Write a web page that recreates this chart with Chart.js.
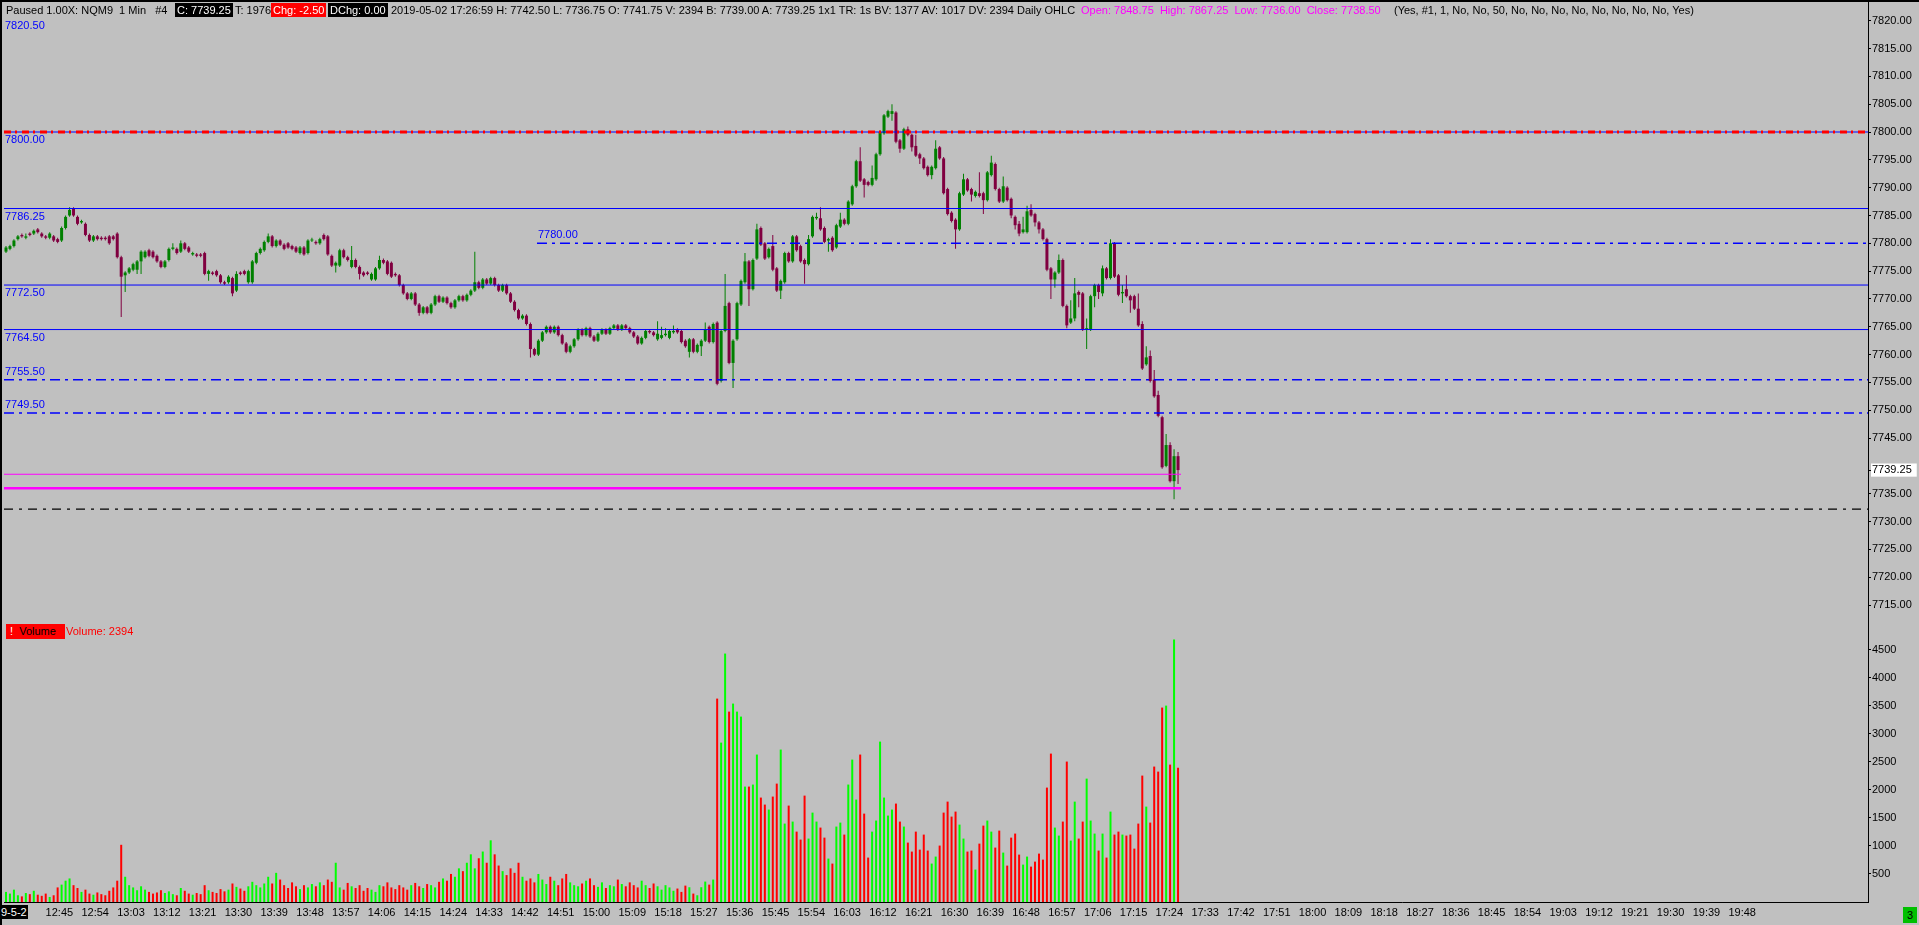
<!DOCTYPE html>
<html>
<head>
<meta charset="utf-8">
<script src="https://cdn.jsdelivr.net/npm/chart.js@4.4.1/dist/chart.umd.min.js"></script>
<style>
  html, body { margin: 0; padding: 0; background: #c0c0c0; }
  #wrap { position: relative; width: 1919px; height: 925px; overflow: hidden; background: #c0c0c0;
          font-family: "Liberation Sans", Arial, sans-serif; font-size: 11px; }
  canvas { position: absolute; left: 0; }
  .t { position: absolute; white-space: pre; line-height: 14px; color: #000; }
  .box { padding: 0 2px; }
  .lvl { position: absolute; white-space: pre; color: #0000ff; line-height: 13px; }
</style>
</head>
<body>
<div id="wrap">
  <canvas id="price" width="1919" height="623" style="top:0"></canvas>
  <canvas id="volume" width="1919" height="302" style="top:623px"></canvas>

  <div style="position:absolute;left:0;top:0;width:1919px;height:2px;background:#000"></div>
  <div style="position:absolute;left:0;top:0;width:2px;height:925px;background:#000"></div>

  <!-- header line -->
  <div class="t" style="left:6px;top:3px">Paused 1.00X: NQM9  1 Min   #4</div>
  <div class="t box" style="left:175px;top:3px;background:#000;color:#fff">C: 7739.25</div>
  <div class="t" style="left:235px;top:3px">T: 1976</div>
  <div class="t box" style="left:271px;top:3px;background:#f00;color:#fff">Chg: -2.50</div>
  <div class="t box" style="left:328px;top:3px;background:#000;color:#fff">DChg: 0.00</div>
  <div class="t" style="left:391px;top:3px">2019-05-02 17:26:59 H: 7742.50 L: 7736.75 O: 7741.75 V: 2394 B: 7739.00 A: 7739.25 1x1 TR: 1s BV: 1377 AV: 1017 DV: 2394 Daily OHLC</div>
  <div class="t" style="left:1081px;top:3px;color:#ff00ff">Open: 7848.75  High: 7867.25  Low: 7736.00  Close: 7738.50</div>
  <div class="t" style="left:1394px;top:3px">(Yes, #1, 1, No, No, 50, No, No, No, No, No, No, No, No, Yes)</div>

  <!-- volume pane title -->
  <div class="t" style="left:6px;top:624px;width:51px;height:15px;line-height:15px;background:#f00;padding:0 4px"><span style="color:#fff">!</span>  Volume</div>
  <div class="t" style="left:66px;top:624px;line-height:15px;color:#f00">Volume: 2394</div>

  <div class="t" style="left:0;top:905px;background:#000;color:#fff;padding:0 1px">9-5-2</div>
  <div class="t" style="left:1903px;top:907px;width:14px;height:16px;line-height:16px;background:#00c000;text-align:center">3</div>
</div>

<script>
// 1-minute bars, 12:32 .. 17:27 (index 0 .. 295)
const opens = [
  7778.5,7779.0,7779.5,7780.75,7781.5,7781.0,7781.75,7781.75,7782.5,7781.75,
  7781.25,7781.0,7781.25,7780.75,7780.5,7782.75,7785.0,7786.25,7784.75,7783.75,
  7783.5,7781.5,7780.5,7781.25,7781.0,7781.0,7781.25,7781.25,7781.75,7777.5,
  7774.25,7774.75,7775.25,7775.25,7776.75,7777.5,7778.75,7778.5,7777.75,7776.75,
  7775.75,7777.0,7779.0,7779.0,7778.5,7780.0,7779.25,7778.0,7778.0,7778.0,
  7778.25,7774.5,7774.75,7775.0,7774.25,7773.0,7773.0,7773.75,7771.5,7774.75,
  7775.0,7773.0,7773.0,7776.5,7778.25,7778.75,7780.25,7781.25,7779.5,7780.5,
  7779.75,7780.0,7779.5,7779.25,7778.25,7779.25,7778.25,7780.5,7780.25,7780.0,
  7781.5,7781.25,7777.75,7776.0,7776.0,7778.75,7777.5,7775.75,7777.0,7775.75,
  7774.75,7774.75,7773.5,7773.5,7775.5,7777.0,7776.75,7776.5,7774.5,7774.25,
  7772.5,7771.0,7770.0,7771.0,7769.0,7767.5,7768.5,7767.5,7769.0,7770.5,
  7769.5,7770.25,7769.25,7768.5,7769.75,7770.5,7769.75,7770.75,7771.5,7773.0,
  7772.0,7773.5,7772.75,7773.75,7772.5,7771.5,7772.5,7771.0,7769.5,7768.0,
  7766.5,7767.0,7765.5,7761.0,7760.0,7762.5,7764.0,7765.0,7764.0,7765.0,
  7763.5,7762.0,7760.5,7761.5,7762.75,7764.5,7763.5,7764.75,7763.25,7762.5,
  7763.75,7764.5,7763.75,7764.75,7765.25,7764.5,7765.25,7764.75,7764.0,7763.25,
  7762.0,7763.0,7764.25,7764.0,7762.75,7763.0,7763.5,7763.0,7764.0,7764.5,
  7764.25,7762.5,7760.5,7762.75,7760.5,7761.5,7762.5,7765.0,7762.25,7765.75,
  7755.25,7764.25,7769.25,7758.5,7762.75,7769.0,7773.0,7776.75,7771.75,7777.25,
  7782.75,7780.0,7777.5,7779.5,7775.5,7771.5,7773.0,7778.25,7776.75,7781.25,
  7779.5,7777.0,7776.25,7781.25,7784.5,7784.5,7782.75,7780.5,7781.0,7779.25,
  7783.0,7784.25,7783.5,7787.0,7790.25,7794.75,7791.5,7791.0,7790.5,7791.5,
  7796.0,7799.75,7802.75,7803.25,7803.5,7798.5,7797.0,7800.5,7799.5,7797.5,
  7796.0,7795.25,7793.75,7792.25,7793.5,7797.25,7795.25,7789.75,7785.5,7784.25,
  7782.5,7788.75,7791.5,7789.75,7788.5,7789.0,7789.0,7787.75,7792.25,7794.25,
  7789.75,7787.5,7790.0,7788.0,7784.75,7783.5,7782.0,7782.0,7786.0,7785.25,
  7783.75,7782.5,7780.75,7775.5,7773.5,7774.75,7777.0,7768.75,7765.75,7766.5,
  7771.25,7771.0,7764.5,7764.5,7770.5,7772.5,7771.0,7775.5,7773.75,7780.0,
  7774.25,7771.0,7771.75,7770.5,7770.5,7768.25,7765.5,7758.25,7759.75,7755.5,
  7752.75,7748.75,7740.0,7743.75,7737.25,7741.75
];
const highs = [
  7779.5,7779.75,7780.75,7781.5,7781.75,7781.75,7782.0,7782.5,7782.75,7782.0,
  7781.5,7782.0,7781.5,7781.0,7783.0,7785.0,7786.5,7786.5,7785.0,7784.25,
  7783.75,7781.75,7781.5,7781.5,7781.25,7781.25,7781.5,7781.5,7782.0,7777.75,
  7775.0,7775.75,7776.5,7777.0,7778.75,7778.75,7779.0,7778.75,7778.0,7777.0,
  7777.0,7779.25,7780.0,7779.25,7780.5,7780.25,7779.5,7778.5,7778.25,7778.25,
  7778.5,7775.25,7775.0,7775.25,7774.5,7773.25,7774.25,7774.0,7775.0,7775.0,
  7775.25,7775.25,7777.0,7778.5,7779.25,7780.5,7781.75,7781.5,7780.75,7780.75,
  7780.0,7780.25,7779.75,7779.5,7779.5,7779.5,7780.75,7781.0,7780.5,7781.0,
  7781.75,7781.5,7778.0,7776.75,7779.0,7779.0,7777.75,7779.5,7777.25,7776.0,
  7775.0,7775.0,7774.75,7775.75,7777.75,7777.25,7777.0,7776.75,7774.75,7774.5,
  7772.75,7771.25,7771.25,7771.25,7769.25,7768.75,7768.75,7769.25,7770.75,7770.75,
  7770.5,7770.5,7769.5,7770.0,7770.75,7770.75,7771.0,7771.75,7778.5,7773.25,
  7773.75,7773.75,7774.0,7774.0,7772.75,7772.75,7772.75,7771.25,7769.75,7768.25,
  7767.25,7767.25,7765.75,7761.25,7762.75,7764.25,7765.25,7765.25,7765.25,7765.25,
  7763.75,7762.25,7761.75,7763.0,7764.75,7764.75,7765.0,7765.0,7763.5,7764.0,
  7764.75,7764.75,7765.0,7765.5,7765.5,7765.5,7765.5,7765.0,7764.25,7763.5,
  7763.25,7764.5,7764.5,7764.25,7766.0,7765.0,7764.75,7764.5,7765.25,7764.75,
  7764.5,7762.75,7763.0,7763.0,7762.0,7762.75,7765.75,7765.25,7765.75,7766.0,
  7764.5,7774.5,7769.5,7762.75,7769.5,7773.5,7778.25,7777.0,7777.25,7783.5,
  7783.0,7780.25,7779.25,7781.5,7775.75,7773.5,7778.5,7778.5,7781.5,7781.5,
  7779.75,7777.25,7781.5,7785.0,7785.5,7786.5,7783.0,7781.0,7781.25,7783.5,
  7785.5,7784.5,7787.75,7790.5,7795.0,7797.25,7791.75,7791.25,7794.0,7796.25,
  7800.25,7803.25,7804.0,7805.0,7803.75,7798.75,7800.75,7801.0,7799.75,7799.5,
  7796.25,7795.5,7794.0,7794.0,7798.5,7797.5,7795.5,7790.0,7785.75,7784.5,
  7789.25,7792.5,7791.75,7790.0,7789.5,7792.75,7789.25,7793.0,7795.75,7794.5,
  7790.0,7792.0,7790.25,7788.25,7785.0,7784.0,7784.75,7786.75,7787.0,7785.5,
  7784.0,7782.75,7781.0,7775.75,7775.0,7778.0,7777.25,7769.0,7769.75,7773.75,
  7771.5,7771.25,7766.5,7770.75,7772.75,7772.75,7776.0,7775.75,7780.75,7780.25,
  7774.5,7772.5,7774.25,7770.75,7770.75,7771.0,7766.0,7761.5,7760.75,7757.25,
  7753.5,7749.0,7745.75,7744.25,7743.0,7742.5
];
const lows = [
  7778.25,7778.75,7779.25,7780.5,7781.0,7780.75,7781.25,7781.5,7781.75,7781.0,
  7780.75,7780.75,7780.25,7780.0,7780.25,7782.5,7784.75,7784.75,7783.25,7783.5,
  7781.25,7780.25,7780.25,7780.5,7780.5,7780.5,7779.75,7780.5,7777.25,7766.75,
  7771.25,7774.5,7775.0,7774.5,7774.5,7777.25,7777.5,7777.25,7776.5,7775.5,
  7775.5,7776.75,7778.75,7778.0,7778.25,7778.75,7778.25,7777.75,7777.5,7777.5,
  7774.25,7773.25,7774.25,7774.0,7772.75,7772.5,7772.75,7770.5,7771.25,7774.25,
  7774.25,7772.75,7772.75,7776.25,7778.0,7778.5,7780.0,7779.25,7779.25,7779.5,
  7778.75,7779.0,7778.75,7778.25,7778.0,7777.75,7778.0,7780.25,7779.75,7779.75,
  7780.5,7777.75,7775.75,7774.75,7775.75,7777.25,7776.75,7775.5,7775.5,7773.5,
  7774.0,7774.25,7773.25,7773.25,7775.25,7776.25,7774.25,7773.75,7774.0,7772.25,
  7770.75,7769.75,7769.75,7768.75,7767.0,7767.25,7767.25,7767.25,7768.75,7769.25,
  7769.25,7769.0,7768.25,7768.25,7769.5,7769.5,7769.5,7770.5,7771.25,7771.75,
  7771.75,7772.5,7772.5,7772.25,7771.25,7771.25,7770.75,7769.25,7767.75,7766.25,
  7766.25,7765.25,7759.5,7759.75,7759.75,7762.25,7763.75,7763.75,7763.75,7763.25,
  7761.75,7760.25,7760.25,7761.25,7762.5,7763.25,7763.25,7763.0,7762.25,7762.25,
  7763.5,7763.5,7763.5,7764.5,7764.25,7764.25,7764.5,7763.75,7763.0,7761.75,
  7761.75,7762.75,7763.75,7763.25,7762.5,7762.75,7763.25,7762.75,7763.75,7763.75,
  7762.0,7761.25,7759.5,7760.25,7760.25,7759.75,7762.25,7762.0,7762.0,7754.5,
  7755.0,7764.0,7758.25,7754.0,7762.5,7768.75,7772.75,7768.75,7771.5,7777.0,
  7779.5,7777.0,7777.25,7775.0,7771.25,7770.0,7772.75,7776.5,7776.5,7778.5,
  7776.5,7772.75,7776.0,7781.0,7784.25,7782.25,7780.0,7778.5,7778.5,7779.0,
  7782.75,7783.25,7783.25,7786.75,7790.0,7791.0,7788.25,7790.25,7790.25,7791.25,
  7795.75,7799.5,7802.5,7802.0,7798.0,7796.25,7796.75,7799.25,7796.5,7795.5,
  7794.25,7793.25,7792.0,7791.5,7793.25,7795.0,7788.75,7785.0,7783.75,7779.0,
  7782.25,7788.5,7789.25,7787.5,7788.25,7788.25,7785.25,7787.5,7792.0,7789.5,
  7787.25,7787.25,7787.5,7784.5,7782.5,7781.25,7781.75,7781.75,7784.75,7783.0,
  7781.75,7780.5,7775.0,7770.0,7772.0,7774.5,7768.5,7764.75,7765.5,7766.0,
  7768.5,7764.25,7761.0,7764.25,7768.5,7770.0,7770.5,7773.5,7773.5,7773.75,
  7770.5,7769.25,7770.25,7767.5,7768.0,7765.0,7757.25,7758.0,7755.0,7752.25,
  7748.75,7739.5,7739.75,7737.0,7734.0,7736.75
];
const closes = [
  7779.25,7779.5,7780.5,7781.25,7781.25,7781.25,7781.5,7782.25,7782.0,7781.25,
  7781.0,7781.75,7780.5,7780.25,7782.75,7784.75,7786.0,7785.0,7783.5,7784.0,
  7781.5,7780.5,7781.25,7780.75,7780.75,7780.75,7780.0,7780.75,7777.5,7774.0,
  7774.75,7775.5,7776.25,7776.75,7778.5,7778.5,7777.75,7777.5,7776.75,7775.75,
  7776.75,7779.0,7779.25,7778.25,7780.0,7779.0,7778.5,7778.25,7777.75,7777.75,
  7774.5,7775.0,7774.5,7774.25,7773.0,7772.75,7774.0,7771.0,7774.5,7774.5,
  7774.5,7775.0,7776.75,7778.25,7779.0,7780.25,7781.25,7779.5,7780.5,7779.75,
  7779.0,7779.25,7779.0,7778.5,7779.25,7778.0,7780.5,7780.5,7780.0,7780.75,
  7780.75,7778.0,7776.0,7776.5,7778.75,7777.5,7777.0,7777.0,7775.75,7774.5,
  7774.25,7774.5,7774.5,7775.5,7777.0,7776.5,7774.5,7774.0,7774.25,7772.5,
  7771.0,7770.0,7771.0,7769.0,7767.5,7768.5,7767.5,7769.0,7770.5,7769.5,
  7770.25,7769.25,7768.5,7769.75,7770.5,7769.75,7770.75,7771.5,7773.0,7772.0,
  7773.5,7772.75,7773.75,7772.5,7771.5,7772.5,7771.0,7769.5,7768.0,7766.5,
  7767.0,7765.5,7761.0,7760.0,7762.5,7764.0,7765.0,7764.0,7765.0,7763.5,
  7762.0,7760.5,7761.5,7762.75,7764.5,7763.5,7764.75,7763.25,7762.5,7763.75,
  7764.5,7763.75,7764.75,7765.25,7764.5,7765.25,7764.75,7764.0,7763.25,7762.0,
  7763.0,7764.25,7764.0,7763.5,7763.75,7763.5,7763.75,7764.25,7764.25,7764.0,
  7762.25,7761.5,7762.75,7760.5,7761.75,7762.5,7764.5,7762.25,7765.5,7754.75,
  7764.25,7768.75,7758.5,7762.5,7769.25,7773.25,7776.75,7771.75,7777.0,7782.5,
  7779.75,7777.25,7779.0,7775.25,7771.5,7773.25,7778.25,7776.75,7781.25,7778.75,
  7776.75,7776.25,7780.75,7784.75,7784.75,7782.5,7780.25,7780.75,7778.75,7783.25,
  7784.25,7783.5,7787.5,7790.25,7794.75,7791.25,7790.5,7790.5,7791.75,7796.0,
  7800.0,7803.0,7803.75,7803.75,7798.25,7797.0,7800.5,7799.5,7797.25,7795.75,
  7795.25,7793.5,7792.25,7793.75,7797.0,7795.25,7789.0,7785.25,7784.0,7782.5,
  7789.0,7791.5,7789.5,7788.75,7789.25,7788.5,7787.75,7792.75,7794.5,7789.75,
  7787.5,7790.25,7787.75,7785.0,7783.25,7781.75,7782.5,7785.75,7785.0,7783.75,
  7782.5,7780.75,7775.25,7773.5,7774.75,7777.0,7768.75,7765.25,7766.5,7771.0,
  7770.75,7764.5,7764.75,7770.5,7772.5,7771.25,7775.5,7773.75,7780.0,7774.0,
  7770.75,7771.25,7770.5,7769.75,7768.25,7765.25,7757.5,7759.5,7755.25,7752.5,
  7749.0,7739.75,7743.75,7737.25,7741.75,7739.25
];
const volumes = [
  180,150,220,120,100,160,140,200,130,110,
  150,90,120,260,310,380,420,300,250,180,
  220,150,130,170,140,120,200,260,380,1020,
  450,300,260,210,280,220,180,150,170,210,
  160,190,140,120,250,200,150,130,160,140,
  300,210,180,160,230,190,220,330,270,240,
  200,280,360,300,260,330,450,330,520,400,
  300,250,350,280,230,300,260,320,280,350,
  300,400,360,700,260,220,340,280,250,300,
  200,250,220,180,300,280,350,260,230,300,
  260,220,300,340,280,250,320,300,260,360,
  420,380,500,450,600,550,700,850,600,780,
  900,700,1100,850,650,550,480,600,520,700,
  450,380,420,350,500,400,320,450,380,300,
  420,500,350,300,280,330,380,420,300,270,
  350,250,300,280,400,320,280,350,300,260,
  380,300,250,330,280,220,300,260,200,240,
  180,292,263,150,120,263,364,310,400,3627,
  2842,4430,3395,3538,3395,3306,2058,2058,2094,2629,
  1862,1737,1648,1880,2111,2718,1398,1719,1434,1255,
  1113,1897,1131,1594,1434,1327,1148,774,685,1345,
  1416,1202,2094,2539,1826,2629,1576,792,1255,1452,
  2860,1862,1541,1648,1755,1434,1345,1059,899,1255,
  934,1202,917,685,810,1006,1594,1790,1523,1612,
  1380,1131,899,917,578,1041,1362,1452,1255,970,
  1273,881,649,1148,1220,845,667,810,631,720,
  863,756,2040,2646,1327,1184,1434,2504,1095,1790,
  1131,1434,2200,1452,1220,917,1220,792,1612,1202,
  1255,1202,1184,1202,952,1398,2254,1701,1416,2415,
  2325,3467,3502,2450,4679,2394
];
const timeLabels = ['12:45','12:54','13:03','13:12','13:21','13:30','13:39','13:48','13:57','14:06',
  '14:15','14:24','14:33','14:42','14:51','15:00','15:09','15:18','15:27','15:36','15:45','15:54',
  '16:03','16:12','16:21','16:30','16:39','16:48','16:57','17:06','17:15','17:24','17:33','17:42',
  '17:51','18:00','18:09','18:18','18:27','18:36','18:45','18:54','19:03','19:12','19:21','19:30',
  '19:39','19:48'];
const priceTicks = [7820,7815,7810,7805,7800,7795,7790,7785,7780,7775,7770,7765,7760,7755,7750,7745,
  7739.25,7735,7730,7725,7720,7715];
const volumeTicks = [500,1000,1500,2000,2500,3000,3500,4000,4500];
const lastPrice = 7739.25;

// horizontal levels
const solidLevels = [7786.25, 7772.50, 7764.50];
const dashLevels = [7780.00, 7755.50, 7749.50];
const redLevel = 7800.00;
const topLevel = 7820.50;
const magentaLevels = [7738.50, 7736.00];
const blackLevel = 7732.25;

// layout of the x axis (bar index units)
const X_MIN = -0.5, X_MAX = 468.66;
const LAST_BAR = 295.75;
const LEVEL_7780_START = 133.65;
const FIRST_LABEL = 13.44, LABEL_STEP = 9.012;

const FONT = { family: '"Liberation Sans", Arial, sans-serif', size: 11 };
const UP = 'rgb(0,128,0)', DOWN = 'rgb(128,0,64)';
const idx = opens.map((_, i) => i);
const isUp = i => closes[i] >= opens[i];
const candleColors = idx.map(i => isUp(i) ? UP : DOWN);
const volColors = idx.map(i => isUp(i) ? '#00ff00' : '#ff0000');

function hline(y, x0, x1, color, width, dash, order) {
  return {
    type: 'line', data: [{x: x0, y: y}, {x: x1, y: y}],
    borderColor: color, borderWidth: width, borderDash: dash || [],
    pointRadius: 0, fill: false, tension: 0, order: order, borderCapStyle: 'butt'
  };
}

// right axis: fixed width, and no extra room kept for the end labels
function fitRight(s) {
  s.width = 51;
  s.paddingTop = 0;
  s.paddingBottom = 0;
}

const levelSets = [];
solidLevels.forEach(v => levelSets.push(hline(v, X_MIN, X_MAX, '#0000ff', 1, null, -1)));
levelSets.push(hline(dashLevels[0], LEVEL_7780_START, X_MAX, '#0000ff', 1.5, [10, 5, 3, 5], -1));
levelSets.push(hline(dashLevels[1], X_MIN, X_MAX, '#0000ff', 1.5, [10, 5, 3, 5], -1));
levelSets.push(hline(dashLevels[2], X_MIN, X_MAX, '#0000ff', 1.5, [10, 5, 3, 5], -1));
levelSets.push(hline(redLevel, X_MIN, X_MAX, '#0000ff', 1, null, -1));
levelSets.push(hline(redLevel, X_MIN, X_MAX, '#ff0000', 3, [7, 4, 2, 5], -2));
levelSets.push(hline(magentaLevels[0], X_MIN, LAST_BAR, '#ff00ff', 1.2, null, -1));
levelSets.push(hline(magentaLevels[1], X_MIN, LAST_BAR, '#ff00ff', 2.5, null, -1));
levelSets.push(hline(blackLevel, X_MIN, X_MAX, '#000000', 1.2, [9, 6, 3, 6], -1));

const priceChart = new Chart(document.getElementById('price'), {
  type: 'bar',
  data: {
    datasets: levelSets.concat([
      { label: 'wick', data: idx.map(i => ({x: i, y: [lows[i], highs[i]]})),
        backgroundColor: candleColors, barThickness: 1, grouped: false, inflateAmount: 0,
        borderWidth: 0, order: 2 },
      { label: 'body', data: idx.map(i => ({x: i, y: [opens[i], closes[i]]})),
        backgroundColor: candleColors, barThickness: 3, minBarLength: 1, grouped: false,
        inflateAmount: 0, borderWidth: 0, order: 1 }
    ])
  },
  options: {
    responsive: false, animation: false, devicePixelRatio: 1,
    layout: { padding: { left: 4, right: 0, top: 0, bottom: 0 } },
    plugins: { legend: { display: false }, tooltip: { enabled: false } },
    scales: {
      x: { type: 'linear', min: X_MIN, max: X_MAX, display: false, offset: false, grid: { offset: false } },
      y: {
        position: 'right', min: 7711.77, max: 7823.72,
        afterFit: fitRight,
        afterBuildTicks: s => { s.ticks = priceTicks.map(v => ({ value: v })); },
        ticks: {
          callback: v => Number(v).toFixed(2), color: '#000', font: FONT, padding: 1,
          autoSkip: false,
          showLabelBackdrop: c => c.tick && c.tick.value === lastPrice,
          backdropColor: '#ffffff', backdropPadding: { top: 0, bottom: 0, left: 1, right: 5 }
        },
        grid: { drawOnChartArea: false, tickLength: 3, color: '#000', tickColor: '#000' },
        border: { display: true, color: '#000' }
      }
    }
  }
});

const volumeChart = new Chart(document.getElementById('volume'), {
  type: 'bar',
  data: {
    datasets: [{ label: 'Volume', data: idx.map(i => ({x: i, y: volumes[i]})),
      backgroundColor: volColors, barThickness: 2, grouped: false, inflateAmount: 0, borderWidth: 0 }]
  },
  options: {
    responsive: false, animation: false, devicePixelRatio: 1,
    layout: { padding: { left: 4, right: 0, top: 0, bottom: 0 } },
    plugins: { legend: { display: false }, tooltip: { enabled: false } },
    scales: {
      x: {
        type: 'linear', min: X_MIN, max: X_MAX, offset: false,
        afterFit: s => { s.height = 23; },
        afterBuildTicks: s => { s.ticks = timeLabels.map((t, k) => ({ value: FIRST_LABEL + LABEL_STEP * k })); },
        ticks: { callback: (v, k) => timeLabels[k], color: '#000', font: FONT, autoSkip: false,
                 maxRotation: 0, padding: 4 },
        grid: { drawOnChartArea: false, drawTicks: false, offset: false },
        border: { display: true, color: '#000' }
      },
      y: {
        position: 'right', min: 0, max: 4975,
        afterFit: fitRight,
        afterBuildTicks: s => { s.ticks = volumeTicks.map(v => ({ value: v })); },
        ticks: { callback: v => String(v), color: '#000', font: FONT, padding: 1, autoSkip: false },
        grid: { drawOnChartArea: false, tickLength: 3, color: '#000', tickColor: '#000' },
        border: { display: true, color: '#000' }
      }
    }
  }
});

// level price labels, placed with the price scale
const wrap = document.getElementById('wrap');
const ys = priceChart.scales.y, xs = priceChart.scales.x;
function levelLabel(v, atX, above) {
  const d = document.createElement('div');
  d.className = 'lvl';
  d.textContent = v.toFixed(2);
  const py = ys.getPixelForValue(v);
  d.style.left = (xs.getPixelForValue(atX) + 1) + 'px';
  d.style.top = (above ? py - 15 : py + 1) + 'px';
  wrap.appendChild(d);
}
levelLabel(topLevel, X_MIN, false);
levelLabel(redLevel, X_MIN, false);
solidLevels.forEach(v => levelLabel(v, X_MIN, false));
levelLabel(dashLevels[0], LEVEL_7780_START, true);
levelLabel(dashLevels[1], X_MIN, true);
levelLabel(dashLevels[2], X_MIN, true);
</script>
</body>
</html>
